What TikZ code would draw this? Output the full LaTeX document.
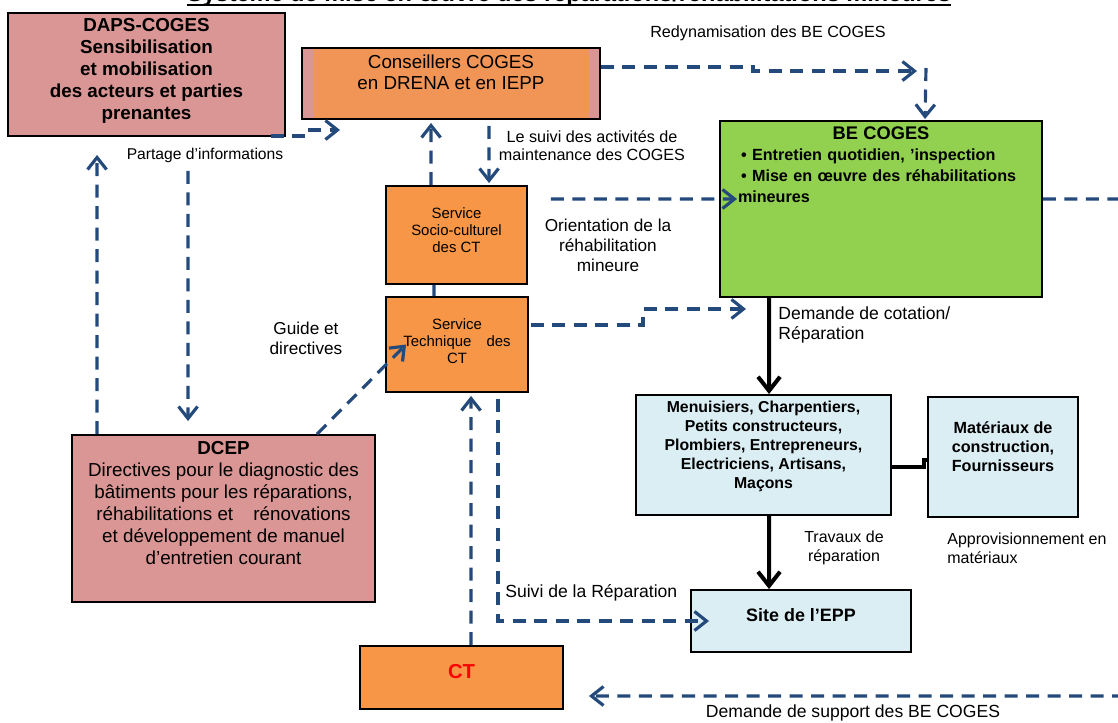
\documentclass[tikz,border=0pt]{standalone}
\usepackage{fontspec}
\setmainfont{Liberation Sans}
\usetikzlibrary{arrows.meta}

\definecolor{dapspink}{RGB}{217,150,148}
\definecolor{ctorange}{RGB}{247,150,70}
\definecolor{coorange}{RGB}{240,149,86}
\definecolor{begreen}{RGB}{146,208,80}
\definecolor{worklight}{RGB}{219,238,243}
\definecolor{linkblue}{RGB}{36,74,124}

\begin{document}
\begin{tikzpicture}[
    x=0.2mm, y=-0.2mm,
    box/.style={rectangle, draw=black, line width=1.1pt, align=center, inner sep=0pt},
    pinkbox/.style={box, fill=dapspink},
    orangebox/.style={box, fill=ctorange},
    greenbox/.style={box, fill=begreen},
    bluebox/.style={box, fill=worklight},
    dasharrow/.style={draw=linkblue, line width=1.8pt, dash pattern=on 2.6mm off 1.7mm, -{Straight Barb[length=2.4mm,width=3.8mm]}},
    dashline/.style={draw=linkblue, line width=1.8pt, dash pattern=on 2.6mm off 1.7mm},
    solidarrow/.style={line width=2.3pt, -{Straight Barb[length=2.8mm,width=4.4mm]}},
    lbl/.style={inner sep=0pt, align=center, font=\fontsize{9.2}{10.5}\selectfont}
]
\useasboundingbox (0,0) rectangle (1118,722);
\clip (0,0) rectangle (1118,722);

% Title (cut at the top of the page)
\node[inner sep=0pt, anchor=base, font=\fontsize{13.4}{15}\selectfont\bfseries] (title) at (569,1)
    {Système de mise en œuvre des réparations/réhabilitations mineures};
\draw[line width=1.1pt] ([yshift=-0.8mm]title.base west) -- ([yshift=-0.8mm]title.base east);

% Left column - ministry level
\node[pinkbox, minimum width=55.4mm, minimum height=24.6mm, text depth=2.2mm,
      font=\fontsize{10.7}{12.5}\selectfont\bfseries] (daps) at (146.5,74.5)
    {DAPS-COGES\\Sensibilisation\\et mobilisation\\des acteurs et parties\\prenantes};
\node[pinkbox, minimum width=60.6mm, minimum height=33.4mm, text depth=6.2mm,
      font=\fontsize{10.7}{12.5}\selectfont] (dcep) at (223.5,518.5)
    {\textbf{DCEP}\\Directives pour le diagnostic des\\bâtiments pour les réparations,\\réhabilitations et\hspace{3mm} rénovations\\et développement de manuel\\d’entretien courant};

% Middle column - COGES advisers and CT services
\node[box, fill=dapspink, minimum width=59.6mm, minimum height=14.2mm, text depth=4.4mm,
      font=\fontsize{10.7}{12}\selectfont,
      path picture={\fill[coorange] ([xshift=2.4mm]path picture bounding box.south west)
                    rectangle ([xshift=-2.2mm]path picture bounding box.north east);}] (conseil) at (451,83.5)
    {Conseillers COGES\\en DRENA et en IEPP};
\node[orangebox, minimum width=28.2mm, minimum height=19.6mm, text depth=2mm,
      font=\fontsize{8.5}{9.7}\selectfont] (socio) at (456.5,235)
    {Service\\Socio-culturel\\des CT};
\node[orangebox, minimum width=28.4mm, minimum height=19mm, text depth=1.4mm,
      font=\fontsize{8.5}{9.7}\selectfont] (techn) at (457,344.5)
    {Service\\Technique\hspace{2.2mm} des\\CT};
\node[orangebox, minimum width=40.6mm, minimum height=12.6mm, text depth=2.6mm,
      font=\fontsize{11.5}{13}\selectfont\bfseries, text=red] (ct) at (461.5,677.5) {CT};

% Right column - school level
\node[greenbox, minimum width=64.4mm, minimum height=35.2mm, text depth=30.4mm,
      inner xsep=3.6mm, text width=57.2mm, align=left,
      font=\fontsize{9.2}{12}\selectfont\bfseries] (becoges) at (881,209)
    {{\centering\fontsize{10.4}{12}\selectfont BE COGES\par}
     \hspace{0.6mm}• Entretien quotidien, 'inspection\\
     \hspace{0.6mm}• Mise en œuvre des réhabilitations\\
     mineures};
\node[bluebox, minimum width=51mm, minimum height=24mm, text depth=4mm,
      font=\fontsize{9}{10.8}\selectfont\bfseries] (menu) at (763.5,455)
    {Menuisiers, Charpentiers,\\Petits constructeurs,\\Plombiers, Entrepreneurs,\\Electriciens, Artisans,\\Maçons};
\node[bluebox, minimum width=30mm, minimum height=24mm, text depth=4mm,
      font=\fontsize{9.2}{10.8}\selectfont\bfseries] (mater) at (1003,457)
    {Matériaux de\\construction,\\Fournisseurs};
\node[bluebox, minimum width=44mm, minimum height=12.4mm, text depth=2.4mm,
      font=\fontsize{10.2}{12}\selectfont\bfseries] (site) at (801,621) {Site de l’EPP};

% Labels
\node[lbl, font=\fontsize{8.9}{10.5}\selectfont] (partage) at (205,155) {Partage d'informations};
\node[lbl, font=\fontsize{9.2}{10.2}\selectfont] (suivicoges) at (592,146) {Le suivi des activités de\\maintenance des COGES};
\node[lbl] (redyn) at (768,33) {Redynamisation des BE COGES};
\node[lbl, font=\fontsize{9.8}{11.4}\selectfont] (orient) at (608,245) {Orientation de la\\réhabilitation\\mineure};
\node[lbl, font=\fontsize{9.8}{11.4}\selectfont] (guide) at (306,338) {Guide et\\directives};
\node[lbl, anchor=west, align=left, font=\fontsize{10}{11.4}\selectfont] (cotation) at (778,325) {Demande de cotation/\\Réparation};
\node[lbl, font=\fontsize{9.1}{10.8}\selectfont] (travaux) at (844,548) {Travaux de\\réparation};
\node[lbl, anchor=west, align=left, font=\fontsize{9.1}{10.8}\selectfont] (appro) at (947,548) {Approvisionnement en\\matériaux};
\node[lbl, anchor=west, font=\fontsize{10}{11.4}\selectfont] (suivirep) at (505,593) {Suivi de la Réparation};
\node[lbl, font=\fontsize{10}{12}\selectfont] (support) at (853,713) {Demande de support des BE COGES};

% Free ends
\coordinate (conin) at (340,130);
\coordinate (redyn1) at (917,71);
\coordinate (redyn2) at (926,68);
\coordinate (offright) at (1125,199);
\coordinate (offbottom) at (1125,696);

% Dashed links - left side
\draw[dasharrow] (daps.south east) ++(-15,-1) -- ++(36,0) |- (conin);
\draw[dasharrow] ([xshift=5.2mm]dcep.north west) -- ([xshift=18mm,yshift=-3.6mm]daps.south west);
\draw[dasharrow] ([xshift=36.2mm,yshift=-6.8mm]daps.south west) -- ([xshift=23.4mm,yshift=2.6mm]dcep.north west);
\draw[dasharrow] ([xshift=49.2mm]dcep.north west) -- ([xshift=4.2mm]techn.west);

% Dashed links - middle
\draw[dasharrow] ([xshift=9.2mm]socio.north west) -- ([xshift=26mm,yshift=-0.6mm]conseil.south west);
\draw[dasharrow] ([xshift=37.6mm,yshift=-1.2mm]conseil.south west) -- ([xshift=20.8mm,yshift=0.4mm]socio.north west);
\draw[draw=linkblue, line width=1.8pt] ([xshift=9.8mm]socio.south west) -- ([xshift=9.8mm]techn.north west);
\draw[dasharrow] ([xshift=22.4mm]ct.north west) -- ([xshift=17.2mm,yshift=-0.6mm]techn.south west);
\draw[dasharrow] ([xshift=22.6mm,yshift=-1.2mm]techn.south west) |- ([xshift=3.8mm]site.west);

% Dashed links - towards BE COGES
\draw[dasharrow] ([yshift=3.3mm]conseil.east) -- ++(152,0) |- (redyn1);
\draw[dasharrow] (redyn2) -- ([xshift=41.2mm,yshift=0.2mm]becoges.north west);
\draw[dasharrow] ([xshift=4.6mm,yshift=7.2mm]socio.east) -- ([xshift=3.6mm,yshift=2mm]becoges.west);
\draw[dasharrow] ([xshift=0.4mm,yshift=3.9mm]techn.east) -- ++(112,0) |- ([xshift=5.4mm,yshift=-2.2mm]becoges.south west);
\draw[dashline] ([yshift=2mm]becoges.east) -- (offright);
\draw[dasharrow] (offbottom) -- ([xshift=5mm,yshift=-3.7mm]ct.east);

% Solid links - works
\draw[solidarrow] ([xshift=10mm]becoges.south west) -- ([xshift=26.8mm]menu.north west);
\draw[line width=2.3pt] ([yshift=-2.4mm]menu.east) -- ++(32,0) |- ([yshift=-0.6mm]mater.west);
\draw[solidarrow] ([xshift=26.8mm]menu.south west) -- ([xshift=15.8mm]site.north west);

\end{tikzpicture}
\end{document}
